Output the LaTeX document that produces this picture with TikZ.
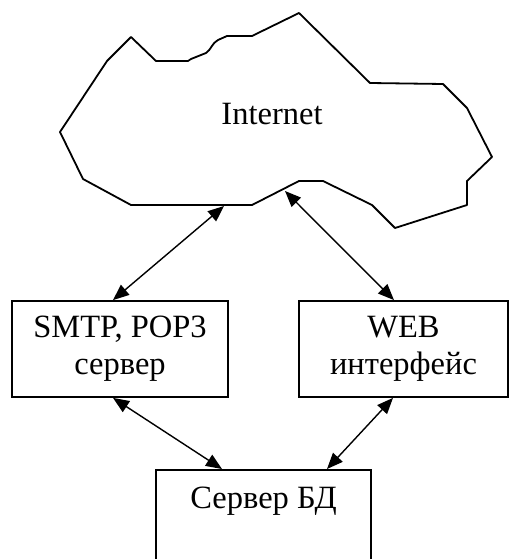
\documentclass[tikz,border=0pt]{standalone}
\usepackage{fontspec}
\setmainfont{Liberation Serif}
\usetikzlibrary{arrows.meta}

\tikzset{
    box/.style={rectangle, draw, line width=1.8pt, inner sep=0pt, align=center,
        font=\fontsize{32.5}{37}\selectfont},
    link/.style={{Triangle[length=16pt,width=13pt]}-{Triangle[length=16pt,width=13pt]}, line width=1.4pt}
}

\begin{document}
\begin{tikzpicture}[x=1pt, y=-1pt]
    \useasboundingbox (0,0) rectangle (509,559);

    % Cloud outline (clockwise from top left)
    \draw[line width=1.8pt, line join=round]
        (131,37) -- (156,61) -- (188,61) -- (191,59) -- (206,53)
        .. controls (211,50) and (212,43) .. (218,40) -- (227,36) -- (252,36)
        -- (299,13) -- (370,83) -- (443,84) -- (467,108) -- (492,157)
        -- (467,181) -- (467,205) -- (395,228) -- (372,205) -- (323,181)
        -- (299,181) -- (252,205) -- (131,205) -- (83,179) -- (60,132)
        -- (107,61) -- cycle;
    \node[font=\fontsize{32.5}{37}\selectfont] (Internet) at (272,114.5) {Internet};
    \coordinate (InetLeft) at (224,206);
    \coordinate (InetRight) at (285,191);

    % Define boxes
    \node[box, minimum width=216pt, minimum height=96pt] (Mail) at (120,349) {SMTP, POP3\\сервер};
    \node[box, minimum width=209pt, minimum height=96pt] (Web) at (403.5,349) {WEB\\интерфейс};
    \node[box, anchor=north, minimum width=215pt, inner ysep=17pt, text depth=50pt] (Db) at (263.5,469) {Сервер БД};

    % Draw edges
    \draw[link] ([xshift=-7pt]Mail.north) -- (InetLeft);
    \draw[link] (InetRight) -- ([xshift=-9.5pt]Web.north);
    \draw[link] ([xshift=-7pt]Mail.south) -- ([xshift=-41.5pt]Db.north);
    \draw[link] ([xshift=-10.5pt]Web.south) -- ([xshift=63.5pt]Db.north);
\end{tikzpicture}
\end{document}
